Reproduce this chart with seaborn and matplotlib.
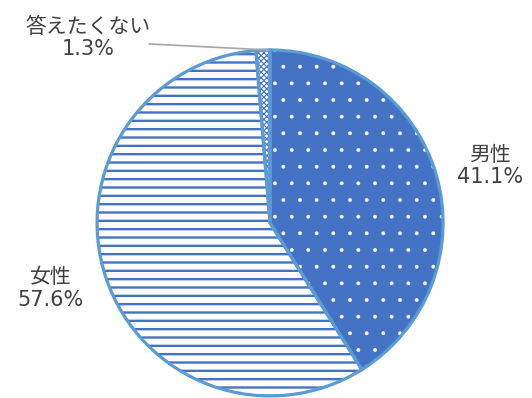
import matplotlib
matplotlib.use("Agg")
import matplotlib.pyplot as plt
import seaborn as sns

# データ
labels = ["男性", "女性", "答えたくない"]
values = [41.1, 57.6, 1.3]
fill_colors = ["#4472C4", "#FFFFFF", "#FFFFFF"]
hatch_colors = ["#FFFFFF", "#4472C4", "#4472C4"]
hatches = [".", "--", "xxxxxx"]
hatch_lw = [0.3, 1.7, 0.8]

sns.set_theme(style="white")
# 数字は Verdana 風の DejaVu、和文は Noto CJK
plt.rcParams["font.family"] = ["DejaVu Sans", "Noto Sans CJK JP"]

fig = plt.figure(figsize=(5.32, 3.98), dpi=100)
ax = fig.add_axes([0, 0, 1, 1])

# 塗り + ハッチ (扇ごとに線幅を変える)
for i in range(len(values)):
    with plt.rc_context({"hatch.linewidth": hatch_lw[i]}):
        cols = ["none"] * len(values)
        cols[i] = fill_colors[i]
        ws, _ = ax.pie(values, startangle=90, counterclock=False,
                       colors=cols, wedgeprops=dict(linewidth=0))
    w = ws[i]
    w.set_edgecolor(hatch_colors[i])
    w.set_hatch(hatches[i])
    if hasattr(w, "set_hatch_linewidth"):
        w.set_hatch_linewidth(hatch_lw[i])
    for j, o in enumerate(ws):
        if j != i:
            o.set_visible(False)

# 枠線
ax.pie(values, startangle=90, counterclock=False,
       wedgeprops=dict(fill=False, edgecolor="#5B9BD5", linewidth=2.3))

ax.set_aspect("auto")
ax.set_xlim(-1.561, 1.514)
ax.set_ylim(-1.012, 1.289)
ax.axis("off")

txt = dict(ha="center", va="center", fontsize=15, color="#404040", linespacing=1.15)
ax.text(1.27, 0.33, f"{labels[0]}\n{values[0]}%", **txt)
ax.text(-1.27, -0.38, f"{labels[1]}\n{values[1]}%", **txt)
ax.text(-1.05, 1.07, f"{labels[2]}\n{values[2]}%", **txt)
ax.plot([-0.70, -0.01], [1.035, 1.0], color="#A6A6A6", linewidth=1.2)

fig.savefig("out.png", dpi=100)
